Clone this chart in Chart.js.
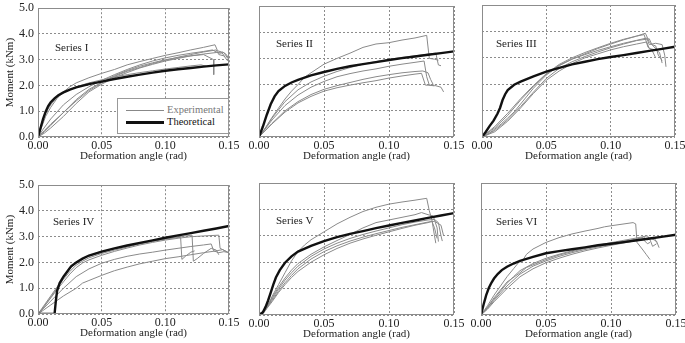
<!DOCTYPE html>
<html>
<head>
<meta charset="utf-8">
<script src="https://cdn.jsdelivr.net/npm/chart.js@4.4.1/dist/chart.umd.min.js"></script>
<style>
  html, body { margin: 0; padding: 0; background: #fff; }
  #wrap { position: relative; width: 685px; height: 343px; overflow: hidden; background: #fff; }
  canvas { position: absolute; }
  .lbl { position: absolute; font-family: "Liberation Serif", "DejaVu Serif", serif; font-size: 11px; color: #222; white-space: nowrap; line-height: 1; }
  #legend { position: absolute; left: 117px; top: 98px; width: 110px; height: 34px; border: 1px solid #999; background: #fff; }
  .lgline { position: absolute; left: 8px; width: 38px; }
  .lgtext { position: absolute; left: 49px; font-family: "Liberation Serif", "DejaVu Serif", serif; font-size: 10.5px; line-height: 1; white-space: nowrap; }
</style>
</head>
<body>
<div id="wrap">
  <div class="lbl" style="left:55px;top:42px;">Series I</div>
  <div class="lbl" style="left:276px;top:38px;">Series II</div>
  <div class="lbl" style="left:496px;top:38px;">Series III</div>
  <div class="lbl" style="left:53px;top:216px;">Series IV</div>
  <div class="lbl" style="left:276px;top:215px;">Series V</div>
  <div class="lbl" style="left:496px;top:216px;">Series VI</div>
  <div id="legend">
    <div class="lgline" style="top:11px;height:1px;background:#888;"></div>
    <div class="lgtext" style="top:6px;color:#777;">Experimental</div>
    <div class="lgline" style="top:22px;height:3px;background:#111;"></div>
    <div class="lgtext" style="top:18px;color:#111;">Theoretical</div>
  </div>
</div>
<script>
// ---------- axis ticks ----------
const xTicks = [0.00, 0.05, 0.10, 0.15];
const yTicks = [0.0, 1.0, 2.0, 3.0, 4.0, 5.0];
const xTitle = "Deformation angle (rad)";
const yTitle = "Moment (kNm)";
const seriesNames = ["Series I", "Series II", "Series III", "Series IV", "Series V", "Series VI"];
const legendLabels = ["Experimental", "Theoretical"];

// ---------- Series I ----------
const I_theory = [[0,0],[0.002,0.35],[0.004,0.7],[0.006,0.98],[0.008,1.2],[0.01,1.35],[0.013,1.5],[0.016,1.62],[0.02,1.73],[0.025,1.84],[0.03,1.93],[0.04,2.05],[0.05,2.15],[0.06,2.25],[0.07,2.34],[0.08,2.42],[0.09,2.5],[0.1,2.57],[0.11,2.63],[0.12,2.68],[0.13,2.73],[0.14,2.78],[0.15,2.82]];
const I_exp1 = [[0,0],[0.003,0.4],[0.006,0.8],[0.01,1.15],[0.015,1.5],[0.02,1.75],[0.025,1.95],[0.03,2.1],[0.04,2.3],[0.05,2.47],[0.06,2.62],[0.07,2.8],[0.08,2.93],[0.09,3.05],[0.1,3.17],[0.11,3.27],[0.12,3.38],[0.13,3.48],[0.139,3.58],[0.141,3.35],[0.144,3.3],[0.147,3.1]];
const I_exp2 = [[0,0],[0.005,0.25],[0.01,0.5],[0.02,0.95],[0.03,1.4],[0.04,1.8],[0.05,2.1],[0.06,2.35],[0.07,2.55],[0.08,2.7],[0.09,2.85],[0.1,2.98],[0.11,3.1],[0.12,3.2],[0.13,3.3],[0.14,3.38],[0.142,3.2],[0.146,3.15],[0.149,2.95]];
const I_exp3 = [[0,0],[0.005,0.15],[0.01,0.35],[0.02,0.8],[0.03,1.3],[0.04,1.75],[0.05,2.05],[0.06,2.3],[0.07,2.5],[0.08,2.68],[0.09,2.82],[0.1,2.95],[0.11,3.05],[0.12,3.15],[0.13,3.22],[0.14,3.28],[0.145,3.3],[0.148,3.2],[0.15,3.0]];
const I_exp4 = [[0,0],[0.002,0.4],[0.005,0.85],[0.01,1.25],[0.015,1.55],[0.02,1.72],[0.03,1.95],[0.04,2.1],[0.05,2.22],[0.06,2.33],[0.07,2.42],[0.08,2.5],[0.09,2.57],[0.1,2.64],[0.11,2.7],[0.12,2.76],[0.128,2.8],[0.132,2.75]];
const I_exp5 = [[0,0],[0.005,0.2],[0.01,0.45],[0.02,0.95],[0.03,1.45],[0.04,1.85],[0.05,2.12],[0.06,2.38],[0.07,2.58],[0.08,2.75],[0.09,2.88],[0.1,3.0],[0.11,3.08],[0.12,3.15],[0.13,3.2],[0.138,3.0],[0.138,2.42]];
const I_exp6 = [[0,0],[0.004,0.3],[0.01,0.7],[0.02,1.25],[0.03,1.65],[0.04,1.95],[0.05,2.2],[0.06,2.42],[0.07,2.62],[0.08,2.8],[0.09,2.95],[0.1,3.07],[0.11,3.17],[0.12,3.25],[0.13,3.32],[0.137,3.38],[0.14,3.3],[0.143,3.25],[0.146,3.28],[0.149,3.05]];

// ---------- Series II ----------
const II_theory = [[0,0],[0.003,0.4],[0.006,0.85],[0.009,1.25],[0.012,1.55],[0.015,1.75],[0.02,1.95],[0.025,2.08],[0.03,2.18],[0.04,2.35],[0.05,2.48],[0.06,2.6],[0.07,2.7],[0.08,2.78],[0.09,2.86],[0.1,2.94],[0.11,3.01],[0.12,3.07],[0.13,3.14],[0.14,3.2],[0.15,3.27]];
const II_exp1 = [[0,0],[0.005,0.35],[0.01,0.75],[0.015,1.1],[0.02,1.45],[0.025,1.75],[0.03,2.0],[0.035,2.28],[0.04,2.45],[0.05,2.78],[0.06,3.0],[0.07,3.2],[0.08,3.42],[0.09,3.55],[0.1,3.6],[0.11,3.7],[0.12,3.78],[0.129,3.88],[0.131,3.0],[0.135,2.97],[0.138,2.93]];
const II_exp2 = [[0,0],[0.005,0.35],[0.01,0.72],[0.02,1.35],[0.03,1.8],[0.04,2.1],[0.05,2.32],[0.06,2.5],[0.07,2.65],[0.08,2.78],[0.09,2.88],[0.1,2.96],[0.11,3.04],[0.12,3.1],[0.13,3.16],[0.136,3.2],[0.138,2.75],[0.14,2.72]];
const II_exp3 = [[0,0],[0.01,0.65],[0.02,1.2],[0.03,1.6],[0.04,1.9],[0.05,2.12],[0.06,2.3],[0.07,2.42],[0.08,2.52],[0.09,2.6],[0.1,2.7],[0.11,2.78],[0.12,2.85],[0.127,2.9],[0.129,2.3],[0.131,1.98],[0.135,1.95]];
const II_exp4 = [[0,0],[0.01,0.5],[0.02,0.95],[0.03,1.3],[0.04,1.55],[0.05,1.75],[0.06,1.88],[0.07,1.98],[0.08,2.07],[0.09,2.15],[0.1,2.25],[0.11,2.33],[0.12,2.4],[0.125,2.43],[0.128,1.98],[0.135,1.97],[0.14,1.9],[0.142,1.72]];
const II_exp5 = [[0,0],[0.01,0.52],[0.02,1.0],[0.03,1.35],[0.04,1.62],[0.05,1.82],[0.06,1.96],[0.07,2.08],[0.08,2.2],[0.09,2.3],[0.1,2.38],[0.11,2.45],[0.12,2.5],[0.126,2.52],[0.13,2.45],[0.132,2.2],[0.134,2.0]];

// ---------- Series III ----------
const III_theory = [[0,0],[0.003,0.2],[0.006,0.42],[0.009,0.62],[0.012,0.88],[0.014,1.1],[0.016,1.4],[0.018,1.62],[0.02,1.78],[0.025,1.98],[0.03,2.1],[0.04,2.3],[0.05,2.48],[0.06,2.62],[0.07,2.75],[0.08,2.85],[0.09,2.95],[0.1,3.03],[0.11,3.1],[0.12,3.18],[0.13,3.26],[0.14,3.34],[0.15,3.42]];
const III_exp1 = [[0,0],[0.005,0.12],[0.01,0.3],[0.015,0.5],[0.02,0.72],[0.025,0.95],[0.03,1.25],[0.035,1.55],[0.04,1.85],[0.045,2.1],[0.05,2.35],[0.06,2.7],[0.07,2.95],[0.08,3.15],[0.09,3.35],[0.1,3.52],[0.11,3.68],[0.12,3.82],[0.127,3.93],[0.13,3.6],[0.133,3.45],[0.136,3.3]];
const III_exp2 = [[0,0],[0.01,0.25],[0.02,0.65],[0.03,1.15],[0.04,1.7],[0.05,2.22],[0.06,2.6],[0.07,2.85],[0.08,3.05],[0.09,3.22],[0.1,3.38],[0.11,3.52],[0.12,3.65],[0.13,3.72],[0.132,3.5],[0.135,3.45],[0.137,3.1],[0.14,2.9]];
const III_exp3 = [[0,0],[0.01,0.35],[0.02,0.82],[0.03,1.4],[0.04,1.92],[0.05,2.38],[0.06,2.72],[0.07,2.95],[0.08,3.12],[0.09,3.28],[0.1,3.42],[0.11,3.55],[0.12,3.66],[0.128,3.75],[0.13,3.5],[0.135,3.55],[0.14,3.5],[0.142,3.1],[0.143,2.66]];
const III_exp4 = [[0,0],[0.01,0.2],[0.02,0.6],[0.03,1.1],[0.04,1.65],[0.05,2.15],[0.06,2.5],[0.07,2.78],[0.08,3.0],[0.09,3.15],[0.1,3.3],[0.11,3.42],[0.12,3.52],[0.128,3.6],[0.13,3.35],[0.135,3.3],[0.138,3.2],[0.14,2.8]];
const III_exp5 = [[0,0],[0.01,0.4],[0.02,0.9],[0.03,1.45],[0.04,1.95],[0.05,2.4],[0.06,2.75],[0.07,3.0],[0.08,3.2],[0.09,3.38],[0.1,3.55],[0.11,3.7],[0.12,3.82],[0.126,3.88],[0.129,3.4],[0.132,3.3],[0.135,3.0]];

// ---------- Series IV ----------
const IV_theory = [[0,0],[0.013,0],[0.014,0.5],[0.015,0.9],[0.017,1.2],[0.02,1.45],[0.023,1.65],[0.026,1.85],[0.03,2.0],[0.035,2.15],[0.04,2.27],[0.05,2.42],[0.06,2.55],[0.07,2.66],[0.08,2.76],[0.09,2.86],[0.1,2.96],[0.11,3.05],[0.12,3.14],[0.13,3.23],[0.14,3.32],[0.15,3.42]];
const IV_exp1 = [[0,0],[0.005,0.3],[0.01,0.65],[0.015,1.0],[0.02,1.35],[0.025,1.65],[0.03,1.9],[0.035,2.05],[0.04,2.18],[0.05,2.35],[0.06,2.48],[0.07,2.6],[0.08,2.72],[0.09,2.82],[0.1,2.9],[0.11,2.97],[0.112,2.97],[0.113,2.12],[0.116,2.25],[0.12,2.4],[0.123,2.45]];
const IV_exp2 = [[0,0],[0.005,0.35],[0.01,0.7],[0.015,1.05],[0.02,1.4],[0.025,1.75],[0.03,2.0],[0.035,2.15],[0.04,2.25],[0.05,2.4],[0.06,2.53],[0.07,2.64],[0.08,2.75],[0.09,2.85],[0.1,2.93],[0.11,3.0],[0.121,3.06],[0.122,2.05],[0.125,2.15],[0.13,2.35],[0.136,2.55],[0.14,2.48],[0.142,2.3]];
const IV_exp3 = [[0,0],[0.005,0.3],[0.01,0.62],[0.015,0.95],[0.02,1.25],[0.025,1.55],[0.03,1.8],[0.035,1.98],[0.04,2.1],[0.05,2.28],[0.06,2.43],[0.07,2.56],[0.08,2.68],[0.09,2.78],[0.1,2.87],[0.11,2.94],[0.12,3.0],[0.13,3.03],[0.142,3.06],[0.143,2.55],[0.147,2.45],[0.15,2.38]];
const IV_exp4 = [[0,0],[0.01,0.5],[0.02,1.0],[0.03,1.45],[0.04,1.75],[0.05,1.97],[0.06,2.12],[0.07,2.24],[0.08,2.33],[0.09,2.4],[0.1,2.48],[0.11,2.55],[0.12,2.62],[0.13,2.68],[0.136,2.72],[0.138,2.45],[0.142,2.38],[0.146,2.42],[0.15,2.38]];
const IV_exp5 = [[0,0],[0.01,0.35],[0.02,0.7],[0.03,1.0],[0.035,1.2],[0.04,1.3],[0.05,1.5],[0.06,1.68],[0.07,1.82],[0.08,1.95],[0.09,2.05],[0.1,2.15],[0.11,2.22],[0.12,2.3],[0.13,2.38],[0.14,2.45],[0.145,2.5],[0.148,2.42]];

// ---------- Series V ----------
const V_theory = [[0,0],[0.003,0.1],[0.005,0.3],[0.007,0.55],[0.009,0.85],[0.011,1.15],[0.013,1.42],[0.016,1.7],[0.02,1.98],[0.025,2.22],[0.03,2.4],[0.04,2.62],[0.05,2.8],[0.06,2.95],[0.07,3.07],[0.08,3.18],[0.09,3.29],[0.1,3.39],[0.11,3.49],[0.12,3.58],[0.13,3.68],[0.14,3.77],[0.15,3.86]];
const V_exp1 = [[0,0],[0.004,0.1],[0.008,0.45],[0.01,0.7],[0.015,1.15],[0.02,1.6],[0.025,2.05],[0.03,2.4],[0.035,2.65],[0.04,2.85],[0.05,3.15],[0.06,3.45],[0.07,3.7],[0.08,3.92],[0.09,4.08],[0.1,4.2],[0.11,4.28],[0.12,4.35],[0.129,4.42],[0.131,3.95],[0.133,3.6],[0.135,3.0],[0.136,2.72]];
const V_exp2 = [[0,0],[0.005,0.25],[0.01,0.65],[0.015,1.05],[0.02,1.4],[0.025,1.7],[0.03,1.95],[0.04,2.3],[0.05,2.58],[0.06,2.82],[0.07,3.05],[0.08,3.3],[0.09,3.5],[0.1,3.6],[0.11,3.7],[0.12,3.8],[0.125,3.88],[0.13,3.8],[0.134,3.75],[0.137,3.3],[0.138,2.78]];
const V_exp3 = [[0,0],[0.005,0.22],[0.01,0.6],[0.015,0.98],[0.02,1.32],[0.025,1.6],[0.03,1.85],[0.04,2.22],[0.05,2.5],[0.06,2.72],[0.07,2.9],[0.08,3.05],[0.09,3.18],[0.1,3.3],[0.11,3.42],[0.12,3.52],[0.13,3.6],[0.135,3.62],[0.138,3.5],[0.14,3.0],[0.141,2.8]];
const V_exp4 = [[0,0],[0.005,0.2],[0.01,0.55],[0.015,0.9],[0.02,1.22],[0.025,1.5],[0.03,1.75],[0.04,2.12],[0.05,2.4],[0.06,2.62],[0.07,2.8],[0.08,2.95],[0.09,3.08],[0.1,3.2],[0.11,3.32],[0.12,3.42],[0.13,3.52],[0.135,3.55],[0.14,3.4],[0.142,3.0]];
const V_exp5 = [[0,0],[0.005,0.18],[0.01,0.5],[0.015,0.85],[0.02,1.15],[0.025,1.42],[0.03,1.65],[0.04,2.0],[0.05,2.28],[0.06,2.52],[0.07,2.72],[0.08,2.88],[0.09,3.02],[0.1,3.15],[0.11,3.28],[0.12,3.4],[0.13,3.5],[0.133,3.55],[0.135,3.3],[0.137,2.9]];

// ---------- Series VI ----------
const VI_theory = [[0,0],[0.002,0.4],[0.004,0.75],[0.006,1.02],[0.008,1.22],[0.01,1.38],[0.013,1.56],[0.016,1.7],[0.02,1.83],[0.025,1.95],[0.03,2.05],[0.04,2.2],[0.05,2.34],[0.06,2.42],[0.07,2.49],[0.08,2.56],[0.09,2.64],[0.1,2.7],[0.11,2.76],[0.12,2.83],[0.13,2.9],[0.14,2.97],[0.15,3.04]];
const VI_exp1 = [[0,0],[0.005,0.35],[0.01,0.75],[0.015,1.1],[0.02,1.45],[0.025,1.75],[0.03,2.05],[0.031,1.98],[0.035,2.3],[0.04,2.5],[0.05,2.75],[0.06,2.93],[0.07,3.07],[0.08,3.18],[0.09,3.28],[0.095,3.34],[0.1,3.38],[0.11,3.45],[0.117,3.5],[0.119,3.45],[0.12,2.75],[0.124,2.5],[0.127,2.3],[0.13,2.1]];
const VI_exp2 = [[0,0],[0.005,0.3],[0.01,0.6],[0.015,0.9],[0.02,1.2],[0.025,1.45],[0.03,1.68],[0.04,1.95],[0.05,2.15],[0.06,2.3],[0.07,2.43],[0.08,2.55],[0.09,2.65],[0.1,2.74],[0.11,2.83],[0.12,2.92],[0.128,3.0],[0.13,2.85],[0.132,2.6],[0.135,2.7]];
const VI_exp3 = [[0,0],[0.005,0.25],[0.01,0.55],[0.02,1.1],[0.03,1.55],[0.04,1.85],[0.05,2.05],[0.06,2.22],[0.07,2.36],[0.08,2.48],[0.09,2.58],[0.1,2.67],[0.11,2.76],[0.12,2.85],[0.13,2.92],[0.135,2.8],[0.137,2.55]];
const VI_exp4 = [[0,0],[0.005,0.28],[0.01,0.65],[0.02,1.25],[0.03,1.6],[0.035,1.8],[0.04,1.9],[0.05,2.1],[0.06,2.27],[0.07,2.4],[0.08,2.52],[0.09,2.62],[0.1,2.72],[0.11,2.8],[0.12,2.88],[0.125,2.95],[0.128,2.85],[0.13,2.9],[0.133,2.95],[0.135,2.75]];
const VI_exp5 = [[0,0],[0.005,0.22],[0.01,0.5],[0.02,1.0],[0.03,1.45],[0.04,1.75],[0.05,1.98],[0.06,2.15],[0.07,2.3],[0.08,2.43],[0.09,2.54],[0.1,2.64],[0.11,2.73],[0.12,2.82],[0.125,2.85],[0.128,2.7],[0.13,2.75]];

// ---------- layout ----------
const panels = [
  { theory: I_theory,   exp: [I_exp1, I_exp2, I_exp3, I_exp4, I_exp5, I_exp6], box: [38, 5, 229, 137],   yLabels: true },
  { theory: II_theory,  exp: [II_exp1, II_exp2, II_exp3, II_exp4, II_exp5],    box: [259, 6, 454, 137],  yLabels: false },
  { theory: III_theory, exp: [III_exp1, III_exp2, III_exp3, III_exp4, III_exp5], box: [482, 5, 675, 137], yLabels: false },
  { theory: IV_theory,  exp: [IV_exp1, IV_exp2, IV_exp3, IV_exp4, IV_exp5],    box: [38, 182, 229, 314], yLabels: true },
  { theory: V_theory,   exp: [V_exp1, V_exp2, V_exp3, V_exp4, V_exp5],         box: [259, 183, 454, 315], yLabels: false },
  { theory: VI_theory,  exp: [VI_exp1, VI_exp2, VI_exp3, VI_exp4, VI_exp5],    box: [481, 183, 676, 315], yLabels: false }
];

const FONT = "'Liberation Serif', 'DejaVu Serif', serif";
const PAD_L = 40, PAD_T = 8, PAD_R = 16, PAD_B = 26;

const frame = {
  id: 'frame',
  afterDraw(chart) {
    const a = chart.chartArea, ctx = chart.ctx;
    ctx.save();
    ctx.strokeStyle = '#8c8c8c';
    ctx.lineWidth = 1;
    ctx.setLineDash([]);
    ctx.strokeRect(Math.round(a.left) + 0.5, Math.round(a.top) + 0.5,
                   Math.round(a.right - a.left) - 1, Math.round(a.bottom - a.top) - 1);
    ctx.restore();
  }
};

const toXY = arr => arr.map(p => ({ x: p[0], y: p[1] }));
const wrap = document.getElementById('wrap');

panels.forEach((p, i) => {
  const [L, T, R, B] = p.box;
  const c = document.createElement('canvas');
  const w = R - L + PAD_L + PAD_R, h = B - T + PAD_T + PAD_B;
  c.width = w; c.height = h;
  c.style.left = (L - PAD_L) + 'px';
  c.style.top = (T - PAD_T) + 'px';
  c.style.width = w + 'px'; c.style.height = h + 'px';
  wrap.insertBefore(c, wrap.firstChild);

  const datasets = [{
    label: legendLabels[1],
    data: toXY(p.theory),
    borderColor: '#111', borderWidth: 2.4, pointRadius: 0, tension: 0, order: 0
  }];
  p.exp.forEach(e => datasets.push({
    label: legendLabels[0],
    data: toXY(e),
    borderColor: '#8a8a8a', borderWidth: 1, pointRadius: 0, tension: 0, order: 1
  }));

  new Chart(c, {
    type: 'line',
    data: { datasets },
    plugins: [frame],
    options: {
      responsive: false, animation: false, devicePixelRatio: 1,
      layout: { padding: { top: PAD_T, right: PAD_R, left: 0, bottom: 0 } },
      plugins: { legend: { display: false }, tooltip: { enabled: false } },
      scales: {
        x: {
          type: 'linear', min: xTicks[0], max: xTicks[xTicks.length - 1],
          afterBuildTicks: s => { s.ticks = xTicks.map(v => ({ value: v })); },
          afterFit: s => { s.height = PAD_B; },
          ticks: { callback: v => Number(v).toFixed(2), font: { family: FONT, size: 12 }, color: '#222', padding: 2, maxRotation: 0 },
          grid: { color: '#8c8c8c', lineWidth: 1, drawTicks: false },
          border: { display: false, dash: [2, 2] },
          title: { display: true, text: xTitle, font: { family: FONT, size: 11 }, color: '#222', padding: { top: 1, bottom: 0 } }
        },
        y: {
          type: 'linear', min: yTicks[0], max: yTicks[yTicks.length - 1],
          afterBuildTicks: s => { s.ticks = yTicks.map(v => ({ value: v })); },
          afterFit: s => { s.width = PAD_L; },
          ticks: { display: p.yLabels, callback: v => Number(v).toFixed(1), font: { family: FONT, size: 12 }, color: '#222', padding: 4 },
          grid: { color: '#8c8c8c', lineWidth: 1, drawTicks: false },
          border: { display: false, dash: [2, 2] },
          title: { display: p.yLabels, text: yTitle, font: { family: FONT, size: 11 }, color: '#222', padding: { top: 6, bottom: 0 } }
        }
      }
    }
  });
});
</script>
</body>
</html>
